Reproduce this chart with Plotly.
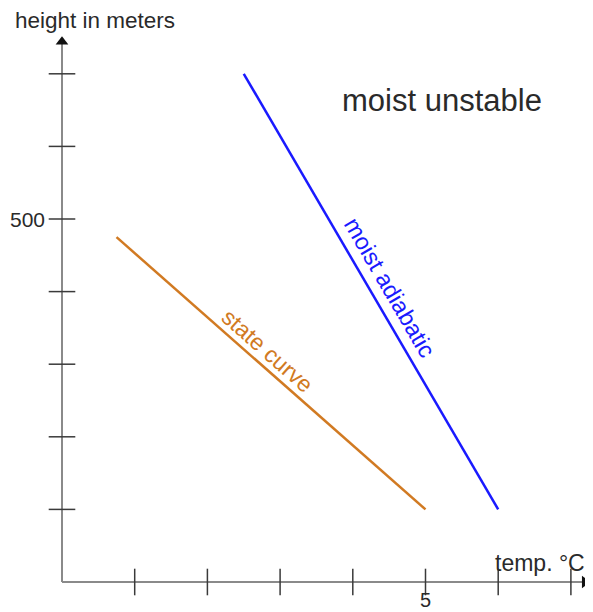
import plotly.graph_objects as go

# data
x_ticks = [1, 2, 3, 4, 5, 6, 7]
y_ticks = [100, 200, 300, 400, 500, 600, 700]
x_tick_labels = {5: "5"}
y_tick_labels = {500: "500"}

moist_temp = [2.5, 6.0]
moist_height = [700, 100]
state_temp = [0.75, 5.0]
state_height = [475, 100]

x_end = 7.26   # arrow tips
y_end = 751

axis_col = "#8a8a8a"
tick_col = "#3a3a3a"
text_col = "#2a2a2a"
font = "Liberation Sans, Arial, sans-serif"

fig = go.Figure()

# axes with arrows
fig.add_trace(go.Scatter(x=[0, x_end - 0.1], y=[0, 0], mode="lines",
                         line=dict(color=axis_col, width=2)))
fig.add_trace(go.Scatter(x=[0, 0], y=[0, y_end - 10], mode="lines",
                         line=dict(color=axis_col, width=2)))
fig.add_trace(go.Scatter(x=[x_end - 0.07], y=[0], mode="markers",
                         marker=dict(symbol="triangle-right", size=11, color="#111111")))
fig.add_trace(go.Scatter(x=[0], y=[y_end - 7], mode="markers",
                         marker=dict(symbol="triangle-up", size=11, color="#111111")))

# tick marks crossing the axes
fig.add_trace(go.Scatter(x=x_ticks, y=[0] * len(x_ticks), mode="markers",
                         marker=dict(symbol="line-ns", size=19,
                                     line=dict(color=tick_col, width=1.5))))
fig.add_trace(go.Scatter(x=[0] * len(y_ticks), y=y_ticks, mode="markers",
                         marker=dict(symbol="line-ew", size=19,
                                     line=dict(color=tick_col, width=1.5))))

# curves
fig.add_trace(go.Scatter(x=moist_temp, y=moist_height, mode="lines",
                         line=dict(color="#1a1aff", width=2.5)))
fig.add_trace(go.Scatter(x=state_temp, y=state_height, mode="lines",
                         line=dict(color="#d17a22", width=2.5)))

# tick labels
for v, t in x_tick_labels.items():
    fig.add_annotation(x=v, y=-25, text=t, showarrow=False,
                       font=dict(size=20, color=text_col, family=font))
for v, t in y_tick_labels.items():
    fig.add_annotation(x=-0.2, y=v, text=t, showarrow=False, xanchor="right",
                       font=dict(size=21, color=text_col, family=font))

# axis titles
fig.add_annotation(x=0.45, y=773, text="height in meters", showarrow=False,
                   font=dict(size=22.5, color=text_col, family=font))
fig.add_annotation(x=6.57, y=26, text="temp. °C", showarrow=False,
                   font=dict(size=23, color=text_col, family=font))

# labels
fig.add_annotation(x=5.23, y=663, text="moist unstable", showarrow=False,
                   font=dict(size=31, color=text_col, family=font))
fig.add_annotation(x=4.51, y=405, text="moist adiabatic", showarrow=False,
                   textangle=59.8,
                   font=dict(size=23.5, color="#1a1aff", family=font))
fig.add_annotation(x=2.83, y=318, text="state curve", showarrow=False,
                   textangle=41.4,
                   font=dict(size=23, color="#d17a22", family=font))

# page body has an 8px margin, so shift the ranges to land the origin at (62, 582)
px_x, px_y = 72.7, 72.6 / 100
fig.update_layout(
    width=593, height=612,
    margin=dict(l=0, r=0, t=0, b=0),
    plot_bgcolor="white", paper_bgcolor="white",
    showlegend=False,
    xaxis=dict(range=[-54 / px_x, (593 - 54) / px_x], visible=False, fixedrange=True),
    yaxis=dict(range=[-(612 - 574) / px_y, 574 / px_y], visible=False, fixedrange=True),
)

fig.write_html("out.html")
